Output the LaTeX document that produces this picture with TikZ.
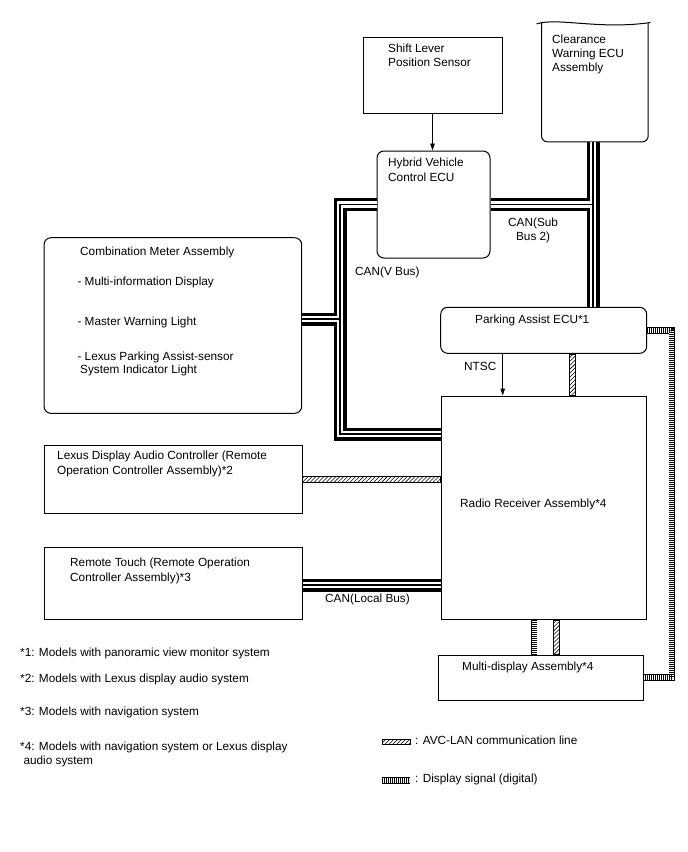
\documentclass[tikz,border=0pt]{standalone}
\usepackage{fontspec}
\setmainfont{Liberation Sans}
\usetikzlibrary{arrows.meta,patterns.meta}

\begin{document}
\begin{tikzpicture}[x=1pt,y=-1pt,
 every node/.style={font=\fontsize{11.8}{14.3}\selectfont,inner sep=0pt},
 box/.style={draw,line width=1pt},
 rbox/.style={box,rounded corners=7pt},
 txt/.style={anchor=base west,align=left},
 sig/.style={-{Triangle[length=7pt,width=4.5pt]},line width=.7pt},
 can/.style={line width=13pt,line join=miter,
  postaction={draw,white,line width=6.6pt},
  postaction={draw,black,line width=1.3pt}},
 disp/.style={line width=6.4pt,
  postaction={draw,white,line width=4.8pt},
  postaction={draw,black,line width=4.8pt,dash pattern=on .7pt off 1.3pt}},
 avc/.style={draw,line width=.6pt,pattern={Lines[angle=45,distance=2.8pt,line width=.55pt]}}]
 \useasboundingbox (0,0) rectangle (688,852);
 % units (multi-line texts are placed by their last baseline)
 \node[box,minimum width=139pt,minimum height=76pt] (shift) at (432.5,75) {};
 \node[txt] (shiftT) at (388,66.3) {Shift Lever\\Position Sensor};
 \node[minimum width=106.3pt,minimum height=118.7pt] (clr) at (594.85,82.35) {};
 \draw[line width=1pt,rounded corners=6pt] (clr.north west) -- (clr.south west) -- (clr.south east) -- (clr.north east);
 \draw[line width=1pt] (536.5,24) .. controls (556,17) and (600,30) .. (650.5,22.5);
 \node[txt] (clrT) at (552,71.9) {Clearance\\Warning ECU\\Assembly};
 \node[rbox,minimum width=113pt,minimum height=107pt] (hv) at (433.5,204.5) {};
 \node[txt] (hvT) at (388,181) {Hybrid Vehicle\\Control ECU};
 \node[rbox,minimum width=257.7pt,minimum height=175.6pt] (cm) at (172.85,325.5) {};
 \node[txt] (cm1) at (80,255) {Combination Meter Assembly};
 \node[txt] (cm2) at (77.3,285.7) {- Multi-information Display};
 \node[txt] (cm3) at (77.3,325) {- Master Warning Light};
 \node[txt] (cm4) at (77.3,360) {- Lexus Parking Assist-sensor};
 \node[txt] (cm5) at (80,373.3) {System Indicator Light};
 \node[rbox,minimum width=206pt,minimum height=46pt] (park) at (543.7,330.3) {};
 \node[txt] (parkT) at (475,323.3) {Parking Assist ECU*1};
 \node[box,minimum width=205.5pt,minimum height=223.3pt] (radio) at (543.75,507.65) {};
 \node[txt] (radioT) at (460,507) {Radio Receiver Assembly*4};
 \node[box,minimum width=258pt,minimum height=68pt] (lda) at (173,479) {};
 \node[txt] (ldaT) at (57,474) {Lexus Display Audio Controller (Remote\\Operation Controller Assembly)*2};
 \node[box,minimum width=258pt,minimum height=72.3pt] (rt) at (173,583.15) {};
 \node[txt] (rtT) at (70,581) {Remote Touch (Remote Operation\\Controller Assembly)*3};
 \node[box,minimum width=205pt,minimum height=45pt] (multi) at (540.8,677.5) {};
 \node[txt] (multiT) at (462,670) {Multi-display Assembly*4};
 % CAN buses
 \draw[can] (hv.west) -| (340,434) -- (radio.west |- 0,434)
  (cm.east |- 0,319) -- (340,319)
  (593,0 |- clr.south) -- (593,0 |- park.north)
  (hv.east) -- (593,0 |- hv.east);
 \draw[can] (rt.east |- 0,585) -- (radio.west |- 0,585);
 \node[txt] (vbus) at (355,275) {CAN(V Bus)};
 \node[txt,align=center] (sbus) at (508,240.3) {CAN(Sub\\Bus 2)};
 \node[txt] (lbus) at (325,602.7) {CAN(Local Bus)};
 % signals
 \draw[sig] (shift.south) -- (shift.south |- hv.north);
 \draw[sig] (502.7,0 |- park.south) -- (502.7,0 |- radio.north);
 \node[txt] (ntsc) at (464,370) {NTSC};
 \draw[avc] (569,0 |- park.south) rectangle (575,0 |- radio.north);
 \draw[avc] (lda.east |- 0,476) rectangle (radio.west |- 0,482);
 \draw[avc] (553,0 |- radio.south) rectangle (559,0 |- multi.north);
 \draw[disp] (534.2,0 |- radio.south) -- (534.2,0 |- multi.north);
 \draw[disp] (park.east) -| (671.7,0 |- multi.east) -- (multi.east);
 % notes
 \node[txt] (n1) at (20,656.7) {*1: Models with panoramic view monitor system};
 \node[txt] (n2) at (20,682.3) {*2: Models with Lexus display audio system};
 \node[txt] (n3) at (20,715) {*3: Models with navigation system};
 \node[txt] (n4) at (20,750) {*4: Models with navigation system or Lexus display};
 \node[txt] (n5) at (23.3,764) {audio system};
 % legend
 \draw[avc] (382,739.3) rectangle (410,744);
 \node[txt] (lg1) at (415,744) {: AVC-LAN communication line};
 \draw[disp] (382,780.5) -- (410,780.5);
 \node[txt] (lg2) at (415,782.7) {: Display signal (digital)};
\end{tikzpicture}
\end{document}
